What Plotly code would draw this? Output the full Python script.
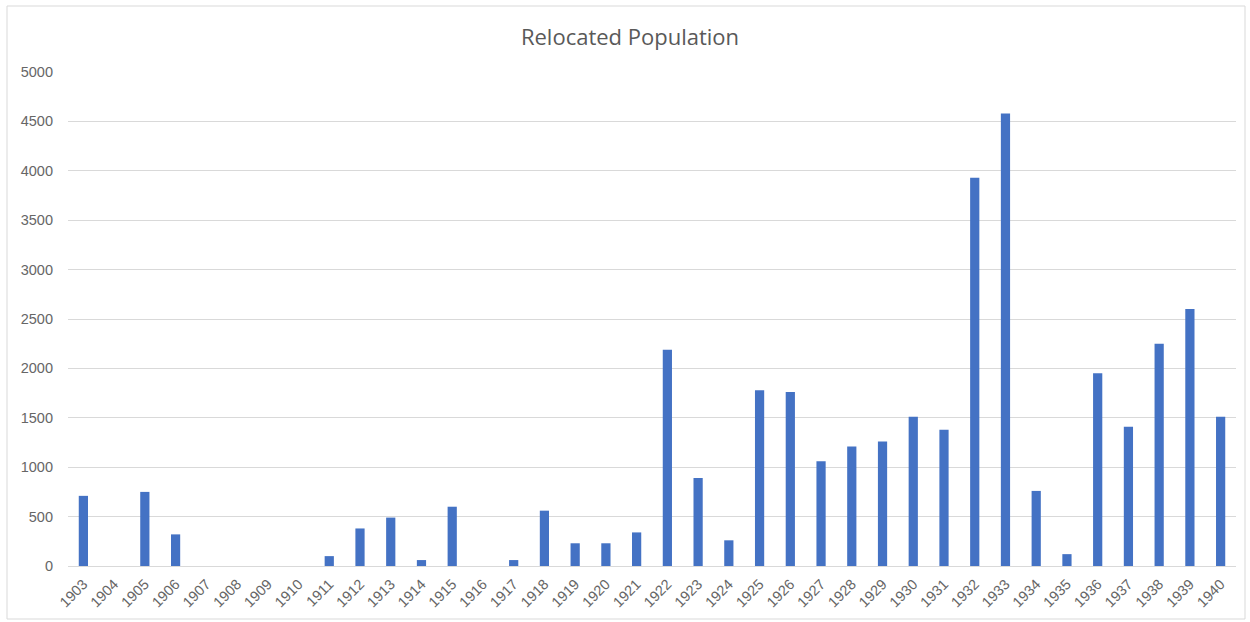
import plotly.graph_objects as go

years = [str(y) for y in range(1903, 1941)]
population = [710, 0, 750, 320, 0, 0, 0, 0, 100, 380, 490, 60, 600, 0, 60, 560,
              230, 230, 340, 2190, 890, 260, 1780, 1760, 1060, 1210, 1260, 1510,
              1380, 3930, 4580, 760, 120, 1950, 1410, 2250, 2600, 1510]
y_ticks = [0, 500, 1000, 1500, 2000, 2500, 3000, 3500, 4000, 4500, 5000]

W, H = 1250, 622
ml, mr, mt, mb = 68, 14, 72, 56

fig = go.Figure(go.Bar(x=years, y=population, marker_color="#4472C4",
                       marker_line_width=0))

pw = W - ml - mr
ph = H - mt - mb
# outer chart border in paper coordinates
x0 = (7 - ml) / pw
x1 = (1245 - ml) / pw
y1 = (H - mb - 6) / ph
y0 = (H - mb - 619) / ph

fig.update_layout(
    width=W, height=H,
    margin=dict(l=ml, r=mr, t=mt, b=mb),
    paper_bgcolor="white", plot_bgcolor="white",
    bargap=0.7,
    showlegend=False,
    font=dict(family="Liberation Sans, Arial, sans-serif", color="#595959"),
    title=dict(text="Relocated Population", x=630 / W, xanchor="center",
               y=1 - 37 / H, yanchor="middle",
               font=dict(size=22, color="#595959", family="Open Sans, sans-serif")),
    shapes=[dict(type="rect", xref="paper", yref="paper", x0=x0, x1=x1, y0=y0, y1=y1,
                 line=dict(color="#D9D9D9", width=1), layer="below")],
)
fig.update_yaxes(range=[0, 5000], tickvals=y_ticks, showgrid=True,
                 gridcolor="#D9D9D9", gridwidth=1, zeroline=True,
                 zerolinecolor="#D9D9D9", zerolinewidth=1, showline=False,
                 ticks="", ticklen=0, tickfont=dict(size=14.5, color="#666666"),
                 ticklabelstandoff=14)
fig.update_xaxes(type="category", tickangle=-45, showgrid=False, showline=False,
                 ticks="", tickfont=dict(size=14.5, color="#666666"),
                 ticklabelstandoff=6)

fig.write_html("out.html")
